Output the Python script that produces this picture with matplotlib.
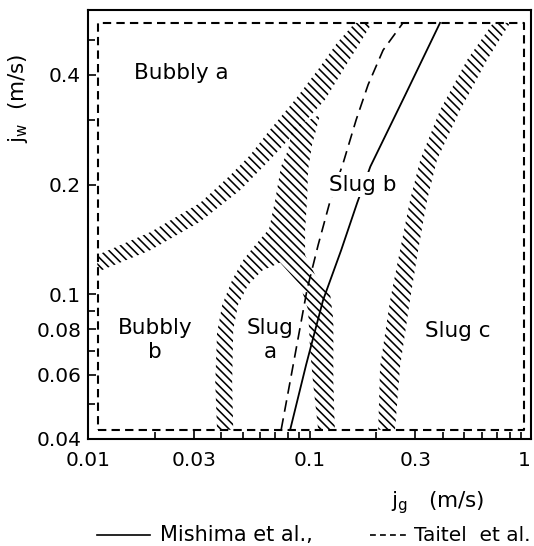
import matplotlib
matplotlib.use("Agg")
import matplotlib.pyplot as plt
from matplotlib.lines import Line2D

plt.rcParams['font.family'] = ['DejaVu Sans']
plt.rcParams['hatch.linewidth'] = 1.15

# band edges (jg, jw in m/s)
# boundary Bubbly a / rest
bubbly_a_upper_x = [0.0110, 0.0191, 0.0320, 0.0438, 0.0539, 0.0663, 0.0860, 0.1115, 0.133, 0.1605]
bubbly_a_upper_y = [0.128, 0.148, 0.178, 0.212, 0.241, 0.283, 0.342, 0.421, 0.490, 0.556]
bubbly_a_lower_x = [0.0110, 0.0191, 0.0320, 0.0486, 0.0663, 0.0906, 0.1175, 0.1446, 0.169, 0.1915]
bubbly_a_lower_y = [0.115, 0.132, 0.158, 0.193, 0.234, 0.288, 0.342, 0.421, 0.490, 0.556]

# boundary Bubbly b, Slug a / Slug b
slug_b_left_x = [0.0834, 0.0800, 0.0743, 0.0699, 0.0650, 0.0736, 0.0906, 0.0984, 0.1005, 0.1037, 0.1093]
slug_b_left_y = [0.286, 0.249, 0.224, 0.181, 0.147, 0.122, 0.106, 0.0905, 0.0702, 0.0570, 0.0424]
slug_b_right_x = [0.130, 0.128, 0.128, 0.124, 0.1059, 0.0954, 0.0954, 0.0974, 0.0984, 0.1026, 0.1115]
slug_b_right_y = [0.0424, 0.0570, 0.0849, 0.0994, 0.1129, 0.128, 0.150, 0.181, 0.219, 0.257, 0.311]

# boundary Bubbly b / Slug a
slug_a_outer_x = [0.0650, 0.0568, 0.0501, 0.0447, 0.0403, 0.0382, 0.0375, 0.0382]
slug_a_outer_y = [0.150, 0.1364, 0.124, 0.1094, 0.0934, 0.0782, 0.0570, 0.0424]
slug_a_inner_x = [0.0452, 0.0447, 0.0452, 0.0475, 0.0528, 0.0610, 0.0736]
slug_a_inner_y = [0.0424, 0.0570, 0.0797, 0.0934, 0.106, 0.116, 0.122]

# boundary Slug b / Slug c
slug_c_left_x = [0.204, 0.208, 0.231, 0.256, 0.284, 0.316, 0.388, 0.514, 0.674]
slug_c_left_y = [0.0424, 0.0631, 0.0964, 0.132, 0.181, 0.234, 0.320, 0.440, 0.556]
slug_c_right_x = [0.804, 0.633, 0.478, 0.376, 0.339, 0.309, 0.284, 0.256, 0.243]
slug_c_right_y = [0.556, 0.440, 0.320, 0.234, 0.181, 0.132, 0.0964, 0.0631, 0.0424]

# transition lines
mishima_x = [0.0817, 0.0964, 0.1151, 0.1388, 0.1639, 0.188, 0.270, 0.388]
mishima_y = [0.0424, 0.0639, 0.0964, 0.132, 0.178, 0.224, 0.352, 0.556]
taitel_x = [0.0744, 0.0851, 0.0974, 0.1093, 0.124, 0.1417, 0.1622, 0.1837, 0.2147, 0.264]
taitel_y = [0.0424, 0.0659, 0.103, 0.1365, 0.181, 0.229, 0.301, 0.376, 0.468, 0.556]

# experimental range
range_x = [0.0111, 0.927]
range_y = [0.0424, 0.556]

x_major = [0.01, 0.03, 0.1, 0.3, 1]
x_major_labels = ['0.01', '0.03', '0.1', '0.3', '1']
x_minor = [0.02, 0.04, 0.05, 0.06, 0.07, 0.08, 0.09, 0.2, 0.4, 0.5, 0.6, 0.7, 0.8, 0.9]
y_major = [0.04, 0.06, 0.08, 0.1, 0.2, 0.4]
y_major_labels = ['0.04', '0.06', '0.08', '0.1', '0.2', '0.4']
y_minor = [0.05, 0.07, 0.09, 0.3, 0.5]

regions = [("Bubbly a", 0.0263, 0.405), ("Slug b", 0.174, 0.2),
           ("Bubbly\nb", 0.0201, 0.0748), ("Slug\na", 0.0663, 0.0748),
           ("Slug c", 0.468, 0.0792)]

fig = plt.figure(figsize=(5.34, 5.46), dpi=100)
ax = fig.add_axes([0.165, 0.196, 0.8296, 0.7866])
ax.set_xscale('log')
ax.set_yscale('log')
ax.set_xlim(0.01, 1)
ax.set_ylim(0.04, 0.605)


def band(x1, y1, x2, y2):
    xs = list(x1) + list(x2)[::-1]
    ys = list(y1) + list(y2)[::-1]
    ax.fill(xs, ys, facecolor='none', edgecolor='black', linewidth=0, hatch='\\' * 4)


band(bubbly_a_upper_x, bubbly_a_upper_y, bubbly_a_lower_x, bubbly_a_lower_y)
band(slug_b_left_x, slug_b_left_y, slug_b_right_x[::-1], slug_b_right_y[::-1])
band(slug_a_outer_x, slug_a_outer_y, slug_a_inner_x[::-1], slug_a_inner_y[::-1])
band(slug_c_left_x, slug_c_left_y, slug_c_right_x[::-1], slug_c_right_y[::-1])

ax.plot(mishima_x, mishima_y, color='black', lw=1.3)
ax.plot(taitel_x, taitel_y, color='black', lw=1.2, linestyle=(0, (7, 4)))

rx = [range_x[0], range_x[1], range_x[1], range_x[0], range_x[0]]
ry = [range_y[0], range_y[0], range_y[1], range_y[1], range_y[0]]
ax.plot(rx, ry, color='black', lw=1.5, linestyle=(0, (4, 2.5)))

for txt, x, y in regions:
    kw = {}
    if txt == "Slug b":
        kw['bbox'] = dict(facecolor='white', edgecolor='none', pad=2)
    ax.text(x, y, txt, fontsize=15.5, ha='center', va='center', linespacing=1.25, **kw)

ax.set_xticks(x_major)
ax.set_xticklabels(x_major_labels)
ax.set_xticks(x_minor, minor=True)
ax.set_xticklabels([], minor=True)
ax.set_yticks(y_major)
ax.set_yticklabels(y_major_labels)
ax.set_yticks(y_minor, minor=True)
ax.set_yticklabels([], minor=True)
ax.tick_params(which='both', direction='in', width=1.2, labelsize=14.5)
ax.tick_params(axis='x', which='both', pad=9)
ax.tick_params(axis='y', which='both', pad=5)
ax.tick_params(which='major', length=6)
ax.tick_params(which='minor', length=5)
ax.get_xticklabels()[-1].set_horizontalalignment('right')
for s in ax.spines.values():
    s.set_linewidth(1.5)

fig.text(0.034, 0.82, "j$_\\mathregular{w}$  (m/s)", rotation=90, fontsize=15.5, ha='center', va='center')
fig.text(0.82, 0.079, "j$_\\mathregular{g}$   (m/s)", fontsize=15.5, ha='center', va='center')

# legend line under the plot
fig.add_artist(Line2D([0.182, 0.281], [0.02, 0.02], color='black', lw=1.2))
fig.text(0.2996, 0.02, "Mishima et al.,", fontsize=15, ha='left', va='center')
fig.add_artist(Line2D([0.693, 0.762], [0.02, 0.02], color='black', lw=1.2, linestyle=(0, (3.5, 2.5))))
fig.text(0.993, 0.02, "Taitel  et al.", fontsize=14.5, ha='right', va='center')

fig.savefig("out.png", dpi=100)
